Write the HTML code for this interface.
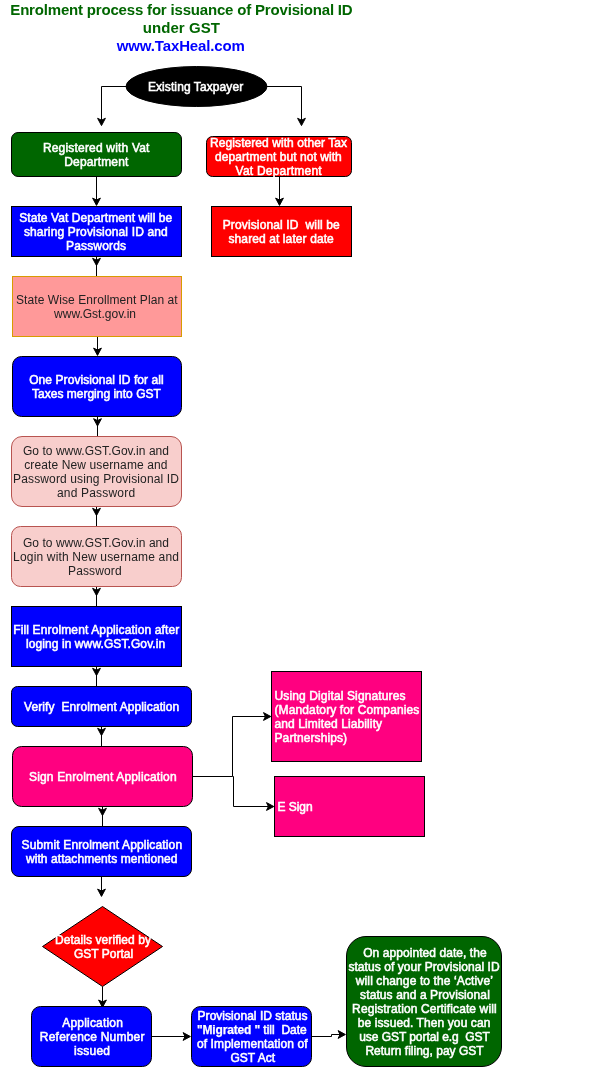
<!DOCTYPE html>
<html lang="en">
<head>
<meta charset="utf-8">
<title>Enrolment process for issuance of Provisional ID under GST</title>
<style>
html,body{margin:0;padding:0;background:#fff;overflow:hidden}
#page{position:relative;width:616px;height:1071px;overflow:hidden;background:#fff;font-family:"Liberation Sans",Arial,Helvetica,sans-serif}
#page svg{position:absolute;left:0;top:0}
#txt{position:absolute;left:0;top:0;width:616px;height:1071px;will-change:transform}
.t{position:absolute;display:flex;align-items:center;justify-content:center;text-align:center;font-size:12px;line-height:14px;white-space:nowrap;letter-spacing:0.06px}
.t.l{justify-content:flex-start;text-align:left}
.ln{display:block;position:relative}
.b{-webkit-text-stroke:0.55px currentColor;letter-spacing:0.08px}
.b b{font-weight:bold;-webkit-text-stroke:0.25px currentColor;letter-spacing:-0.15px}
.w{color:#fff}
.k{color:#222}
.title{font-size:15px;line-height:18px;letter-spacing:-0.2px;font-weight:bold;align-items:flex-start}
.title .g{color:#006600}
.title .u{color:#0000ff}
</style>
</head>
<body>
<div id="page">
<svg width="616" height="1071" viewBox="0 0 616 1071">
<path d="M126 86.5 L101.5 86.5 L101.5 120.5" fill="none" stroke="#000" stroke-miterlimit="10"/>
<path d="M101.5 125.6 L97.6 118.3 L101.5 120.2 L105.4 118.3 Z" fill="#000" stroke="#000" stroke-miterlimit="10"/>
<path d="M267 86.5 L301.5 86.5 L301.5 120.5" fill="none" stroke="#000" stroke-miterlimit="10"/>
<path d="M301.5 125.6 L297.6 118.3 L301.5 120.2 L305.4 118.3 Z" fill="#000" stroke="#000" stroke-miterlimit="10"/>
<path d="M96.5 176.5 L96.5 200.5" fill="none" stroke="#000" stroke-miterlimit="10"/>
<path d="M96.5 205.4 L92.6 198.1 L96.5 200 L100.4 198.1 Z" fill="#000" stroke="#000" stroke-miterlimit="10"/>
<path d="M279.5 177 L279.5 200.5" fill="none" stroke="#000" stroke-miterlimit="10"/>
<path d="M279.5 205.4 L275.6 198.1 L279.5 200 L283.4 198.1 Z" fill="#000" stroke="#000" stroke-miterlimit="10"/>
<path d="M96.5 256.5 L96.5 276.5" fill="none" stroke="#000" stroke-miterlimit="10"/>
<path d="M96.5 265.6 L92.6 258.3 L96.5 260.2 L100.4 258.3 Z" fill="#000" stroke="#000" stroke-miterlimit="10"/>
<path d="M97.5 416.5 L97.5 436.5" fill="none" stroke="#000" stroke-miterlimit="10"/>
<path d="M97.5 426 L93.6 418.7 L97.5 420.6 L101.4 418.7 Z" fill="#000" stroke="#000" stroke-miterlimit="10"/>
<path d="M96.5 506.5 L96.5 526.5" fill="none" stroke="#000" stroke-miterlimit="10"/>
<path d="M96.5 515.6 L92.6 508.3 L96.5 510.2 L100.4 508.3 Z" fill="#000" stroke="#000" stroke-miterlimit="10"/>
<path d="M96.5 586.5 L96.5 606.5" fill="none" stroke="#000" stroke-miterlimit="10"/>
<path d="M96.5 595.6 L92.6 588.3 L96.5 590.2 L100.4 588.3 Z" fill="#000" stroke="#000" stroke-miterlimit="10"/>
<path d="M96.5 666.5 L96.5 686.5" fill="none" stroke="#000" stroke-miterlimit="10"/>
<path d="M96.5 675.6 L92.6 668.3 L96.5 670.2 L100.4 668.3 Z" fill="#000" stroke="#000" stroke-miterlimit="10"/>
<path d="M101.5 726.5 L101.5 746.5" fill="none" stroke="#000" stroke-miterlimit="10"/>
<path d="M101.5 735.6 L97.6 728.3 L101.5 730.2 L105.4 728.3 Z" fill="#000" stroke="#000" stroke-miterlimit="10"/>
<path d="M102.5 806.5 L102.5 826.5" fill="none" stroke="#000" stroke-miterlimit="10"/>
<path d="M102.5 815.6 L98.6 808.3 L102.5 810.2 L106.4 808.3 Z" fill="#000" stroke="#000" stroke-miterlimit="10"/>
<path d="M97.5 336.5 L97.5 350.5" fill="none" stroke="#000" stroke-miterlimit="10"/>
<path d="M97.5 355.4 L93.6 348.1 L97.5 350 L101.4 348.1 Z" fill="#000" stroke="#000" stroke-miterlimit="10"/>
<path d="M101.5 876.5 L101.5 891" fill="none" stroke="#000" stroke-miterlimit="10"/>
<path d="M101.5 896.4 L97.6 889.1 L101.5 891 L105.4 889.1 Z" fill="#000" stroke="#000" stroke-miterlimit="10"/>
<path d="M102.5 986.5 L102.5 1002" fill="none" stroke="#000" stroke-miterlimit="10"/>
<path d="M102.5 1007.3 L98.6 1000 L102.5 1001.9 L106.4 1000 Z" fill="#000" stroke="#000" stroke-miterlimit="10"/>
<path d="M151.5 1036.5 L185.5 1036.5" fill="none" stroke="#000" stroke-miterlimit="10"/>
<path d="M190.4 1036.5 L183.1 1032.6 L185 1036.5 L183.1 1040.4 Z" fill="#000" stroke="#000" stroke-miterlimit="10"/>
<path d="M311.5 1036.5 L331.5 1036.5 L331.5 1034.5 L340.5 1034.5" fill="none" stroke="#000" stroke-miterlimit="10"/>
<path d="M345.4 1034.5 L338.1 1030.6 L340 1034.5 L338.1 1038.4 Z" fill="#000" stroke="#000" stroke-miterlimit="10"/>
<path d="M192.5 776.5 L232.5 776.5 L232.5 716.5 L265.5 716.5" fill="none" stroke="#000" stroke-miterlimit="10"/>
<path d="M270.8 716.5 L263.5 712.6 L265.4 716.5 L263.5 720.4 Z" fill="#000" stroke="#000" stroke-miterlimit="10"/>
<path d="M232.5 776.5 L233.5 776.5 L233.5 806.5 L268.5 806.5" fill="none" stroke="#000" stroke-miterlimit="10"/>
<path d="M273.8 806.5 L266.5 802.6 L268.4 806.5 L266.5 810.4 Z" fill="#000" stroke="#000" stroke-miterlimit="10"/>
<rect x="11.5" y="132.5" width="170" height="44" rx="6.6" ry="6.6" fill="#006600" stroke="#000"/>
<rect x="206.5" y="136.5" width="145" height="40" rx="6" ry="6" fill="#ff0000" stroke="#000"/>
<rect x="11.5" y="206.5" width="170" height="50" rx="0" ry="0" fill="#0000ff" stroke="#000"/>
<rect x="211.5" y="206.5" width="140" height="50" rx="0" ry="0" fill="#ff0000" stroke="#000"/>
<rect x="12.5" y="276.5" width="169" height="60" rx="0" ry="0" fill="#ff9999" stroke="#d79b00"/>
<rect x="12.5" y="356.5" width="169" height="60" rx="9" ry="9" fill="#0000ff" stroke="#000"/>
<rect x="11.5" y="436.5" width="170" height="70" rx="10.5" ry="10.5" fill="#f8cecc" stroke="#b85450"/>
<rect x="11.5" y="526.5" width="170" height="60" rx="9" ry="9" fill="#f8cecc" stroke="#b85450"/>
<rect x="11.5" y="606.5" width="170" height="60" rx="0" ry="0" fill="#0000ff" stroke="#000"/>
<rect x="11.5" y="686.5" width="180" height="40" rx="6" ry="6" fill="#0000ff" stroke="#000"/>
<rect x="12.5" y="746.5" width="180" height="60" rx="9" ry="9" fill="#ff0080" stroke="#000"/>
<rect x="11.5" y="826.5" width="180" height="50" rx="7.5" ry="7.5" fill="#0000ff" stroke="#000"/>
<rect x="271.5" y="671.5" width="150" height="90" rx="0" ry="0" fill="#ff0080" stroke="#000"/>
<rect x="274.5" y="776.5" width="150" height="60" rx="0" ry="0" fill="#ff0080" stroke="#000"/>
<rect x="31.5" y="1006.5" width="120" height="60" rx="9" ry="9" fill="#0000ff" stroke="#000"/>
<rect x="191.5" y="1006.5" width="120" height="60" rx="9" ry="9" fill="#0000ff" stroke="#000"/>
<rect x="346.5" y="936.5" width="155" height="130" rx="19.5" ry="19.5" fill="#006600" stroke="#000"/>
<ellipse cx="196.5" cy="86.5" rx="70.5" ry="20" fill="#000" stroke="#000"/>
<path d="M102.5 906.5 L162.5 946.5 L102.5 986.5 L42.5 946.5 Z" fill="#ff0000" stroke="#000" stroke-miterlimit="10"/>
</svg>
<div id="txt">
<div class="t title" style="left:11px;top:1px;width:340px;height:54px"><div><span class="ln" id="title0" style="letter-spacing:-0.182px;left:0.41px"><span class="g">Enrolment process for issuance of Provisional ID</span></span><span class="ln" id="title1" style="letter-spacing:0.053px;left:0.38px"><span class="g">under GST</span></span><span class="ln" id="title2" style="letter-spacing:-0.14px;left:-0.24px"><span class="u">www.TaxHeal.com</span></span></div></div>
<div class="t b w" style="left:126px;top:66.5px;width:141px;height:40px"><div><span class="ln" id="ell0" style="letter-spacing:0.092px;left:-0.9px">Existing Taxpayer</span></div></div>
<div class="t b w" style="left:11.5px;top:132.9px;width:170px;height:44px"><div><span class="ln" id="g10" style="letter-spacing:0.185px;left:-0.26px">Registered with Vat</span><span class="ln" id="g11" style="letter-spacing:0.144px;left:-0.13px">Department</span></div></div>
<div class="t b w" style="left:206.5px;top:136.5px;width:145px;height:40px"><div><span class="ln" id="r10" style="letter-spacing:0.071px;left:-0.43px">Registered with other Tax</span><span class="ln" id="r11" style="letter-spacing:0.054px;left:-0.57px">department but not with</span><span class="ln" id="r12" style="letter-spacing:0.219px;left:-0.29px">Vat Department</span></div></div>
<div class="t b w" style="left:11.5px;top:206.5px;width:170px;height:50px"><div><span class="ln" id="b10" style="letter-spacing:0.065px;left:-0.73px">State Vat Department will be</span><span class="ln" id="b11" style="letter-spacing:0.153px;left:-0.57px">sharing Provisional ID and</span><span class="ln" id="b12" style="letter-spacing:0.164px;left:-0.41px">Passwords</span></div></div>
<div class="t b w" style="left:211.5px;top:206.5px;width:140px;height:50px"><div><span class="ln" id="r20" style="letter-spacing:0.134px;left:-0.24px">Provisional ID&nbsp; will be</span><span class="ln" id="r21" style="letter-spacing:0.099px;left:-0.3px">shared at later date</span></div></div>
<div class="t k" style="left:12.5px;top:276.5px;width:169px;height:60px"><div><span class="ln" id="p10" style="letter-spacing:0.082px;left:-0.1px">State Wise Enrollment Plan at</span><span class="ln" id="p11" style="letter-spacing:0.015px;left:-1.98px">www.Gst.gov.in</span></div></div>
<div class="t b w" style="left:12.5px;top:356.5px;width:169px;height:60px"><div><span class="ln" id="b20" style="letter-spacing:0.071px;left:-0.51px">One Provisional ID for all</span><span class="ln" id="b21" style="letter-spacing:-0.001px;left:-0.55px">Taxes merging into GST</span></div></div>
<div class="t k" style="left:11.5px;top:436.5px;width:170px;height:70px"><div><span class="ln" id="lp10" style="letter-spacing:0.036px;left:-0.49px">Go to www.GST.Gov.in and</span><span class="ln" id="lp11" style="letter-spacing:0.116px;left:-0.6px">create New username and</span><span class="ln" id="lp12" style="letter-spacing:0.133px;left:-0.44px">Password using Provisional ID</span><span class="ln" id="lp13" style="letter-spacing:0.195px;left:-0.4px">and Password</span></div></div>
<div class="t k" style="left:11.5px;top:526.5px;width:170px;height:60px"><div><span class="ln" id="lp20" style="letter-spacing:0.036px;left:-0.49px">Go to www.GST.Gov.in and</span><span class="ln" id="lp21" style="letter-spacing:0.168px;left:-0.42px">Login with New username and</span><span class="ln" id="lp22" style="letter-spacing:0.128px;left:-1.64px">Password</span></div></div>
<div class="t b w" style="left:11.5px;top:606.5px;width:170px;height:60px"><div><span class="ln" id="b30" style="letter-spacing:0.127px;left:-0.13px">Fill Enrolment Application after</span><span class="ln" id="b31" style="letter-spacing:0.092px;left:-0.9px">loging in www.GST.Gov.in</span></div></div>
<div class="t b w" style="left:11.5px;top:686.5px;width:180px;height:40px"><div><span class="ln" id="b40" style="letter-spacing:0.087px;left:0.24px">Verify&nbsp; Enrolment Application</span></div></div>
<div class="t b w" style="left:12.5px;top:746.5px;width:180px;height:60px"><div><span class="ln" id="m10" style="letter-spacing:0.167px;left:0.4px">Sign Enrolment Application</span></div></div>
<div class="t b w" style="left:11.5px;top:826.5px;width:180px;height:50px"><div><span class="ln" id="b50" style="letter-spacing:0.138px;left:0.43px">Submit Enrolment Application</span><span class="ln" id="b51" style="letter-spacing:0.087px;left:0.24px">with attachments mentioned</span></div></div>
<div class="t b w l" style="left:273.5px;top:671.5px;width:150px;height:90px"><div><span class="ln" id="m20" style="letter-spacing:0.127px;left:1.01px">Using Digital Signatures</span><span class="ln" id="m21" style="letter-spacing:0.119px;left:1px">(Mandatory for Companies</span><span class="ln" id="m22" style="letter-spacing:0.11px;left:1px">and Limited Liability</span><span class="ln" id="m23" style="letter-spacing:0.103px;left:1px">Partnerships)</span></div></div>
<div class="t b w l" style="left:277px;top:776.5px;width:150px;height:60px"><div><span class="ln" id="m30" style="letter-spacing:-0.032px;left:0.4px">E Sign</span></div></div>
<div class="t b w" style="left:42px;top:906.5px;width:120px;height:80px"><div><span class="ln" id="dia0" style="letter-spacing:0.066px;left:0.99px">Details verified by</span><span class="ln" id="dia1" style="letter-spacing:-0.004px;left:1.55px">GST Portal</span></div></div>
<div class="t b w" style="left:31.5px;top:1006.5px;width:120px;height:60px"><div><span class="ln" id="b60" style="letter-spacing:0.189px;left:1.2px">Application</span><span class="ln" id="b61" style="letter-spacing:0.221px;left:0.77px">Reference Number</span><span class="ln" id="b62" style="letter-spacing:0.26px;left:0.65px">issued</span></div></div>
<div class="t b w" style="left:191.5px;top:1006.5px;width:120px;height:60px"><div><span class="ln" id="b70" style="letter-spacing:0.026px;left:1.06px">Provisional ID status</span><span class="ln" id="b71" style="letter-spacing:0.006px;left:0.37px"><b>"Migrated "</b> till&nbsp; Date</span><span class="ln" id="b72" style="letter-spacing:0.093px;left:0.8px">of Implementation of</span><span class="ln" id="b73" style="letter-spacing:0.056px;left:1.35px">GST Act</span></div></div>
<div class="t b w" style="left:346.5px;top:936.5px;width:155px;height:130px"><div><span class="ln" id="g20" style="letter-spacing:0.066px;left:1px">On appointed date, the</span><span class="ln" id="g21" style="letter-spacing:0.064px;left:0.04px">status of your Provisional ID</span><span class="ln" id="g22" style="letter-spacing:0.116px;left:0.42px">will change to the &lsquo;Active&rsquo;</span><span class="ln" id="g23" style="letter-spacing:0.099px;left:1.02px">status and a Provisional</span><span class="ln" id="g24" style="letter-spacing:0.111px;left:0.43px">Registration Certificate will</span><span class="ln" id="g25" style="letter-spacing:0.098px;left:0.11px">be issued. Then you can</span><span class="ln" id="g26" style="letter-spacing:-0.057px;left:0.49px">use GST portal e.g&nbsp; GST</span><span class="ln" id="g27" style="letter-spacing:0.007px;left:0.52px">Return filing, pay GST</span></div></div>
</div>
</div>
</body>
</html>
